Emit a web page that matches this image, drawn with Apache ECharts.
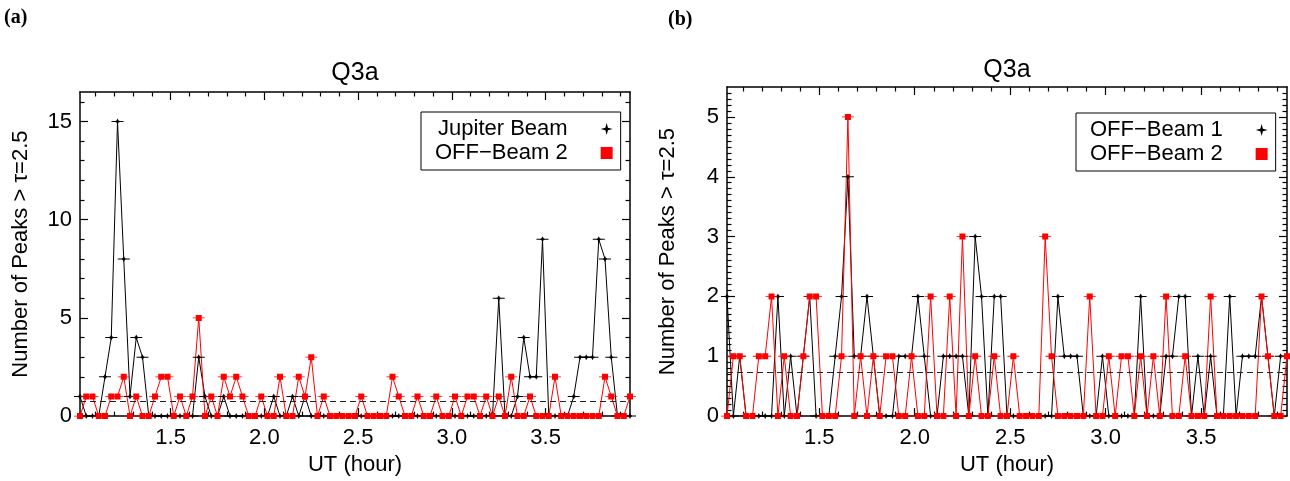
<!DOCTYPE html>
<html>
<head>
<meta charset="utf-8">
<script src="https://cdn.jsdelivr.net/npm/echarts@6/dist/echarts.min.js"></script>
<style>
  html, body { margin: 0; padding: 0; background: #fff; }
  #chart { width: 1290px; height: 481px; }
</style>
</head>
<body>
<div id="chart"></div>
<script>
// ---------------- DATA ----------------
// sample times, minutes after 0 UT (2-minute bins)
const UT_MIN = [61,63,65,67,69,71,73,75,77,79,81,83,85,87,89,91,93,95,97,99,
  101,103,105,107,109,111,113,115,117,119,121,123,125,127,129,131,133,135,137,139,
  141,143,145,147,149,151,153,155,157,159,161,163,165,167,169,171,173,175,177,179,
  181,183,185,187,189,191,193,195,197,199,201,203,205,207,209,211,213,215,217,219,
  221,223,225,227,229,231,233,235,237];

// Panel (a)
const JUPITER_A = [1,0,0,0,2,4,15,8,1,4, 3,0,0,0,0,0,0,0,0,3, 1,0,0,1,0,0,0,0,0,0,
  0,1,0,0,1,0,1,0,0,0, 0,0,0,0,0,0,0,0,0,0, 0,0,0,0,0,0,0,0,0,0, 0,0,0,0,0,0,0,6,0,0,
  1,4,2,2,9,0,0,0,0,1, 3,3,3,9,8,3,0,0,0];
const OFF2_A = [0,1,1,0,0,1,1,2,0,1, 0,0,1,2,2,0,1,0,1,5, 0,1,0,2,1,2,1,0,0,1,
  0,0,2,0,0,2,1,3,0,1, 0,0,0,0,0,1,0,0,0,0, 2,1,0,0,1,0,0,1,0,0, 1,0,1,1,0,1,0,1,0,2,
  0,0,1,0,0,0,2,0,0,0, 0,0,0,0,2,1,0,0,1];
const THRESH_A = 0.76;

// Panel (b)
const OFF1_B = [2,0,1,0,0,0,0,0,2,0, 1,0,1,2,0,0,0,1,2,4, 1,1,2,1,0,0,0,1,1,1,
  2,1,0,0,1,1,1,1,0,3, 2,0,2,2,0,0,0,0,0,0, 0,0,2,1,1,1,0,0,0,1, 0,0,0,0,0,2,0,0,0,1,
  1,2,2,0,1,0,1,0,0,2, 0,1,1,1,2,1,0,1,1];
const OFF2_B = [0,1,1,0,0,1,1,2,0,1, 0,0,1,2,2,0,0,0,1,5, 0,1,0,1,0,1,1,0,0,1,
  0,0,2,0,0,2,0,3,0,1, 0,0,1,0,0,1,0,0,0,0, 3,1,0,0,0,0,0,2,0,0, 1,0,1,1,0,1,0,1,0,2,
  0,0,1,0,0,0,2,0,0,0, 0,0,0,0,2,1,0,0,1];
const THRESH_B = 0.74;

// Axis ticks / labels
const X_MIN = 61 / 60, X_MAX = 237 / 60;
const X_MAJOR = [1.5, 2.0, 2.5, 3.0, 3.5];
const X_MINOR = [1.1,1.2,1.3,1.4,1.6,1.7,1.8,1.9,2.1,2.2,2.3,2.4,2.6,2.7,2.8,2.9,3.1,3.2,3.3,3.4,3.6,3.7,3.8,3.9];
const Y_A_MAX = 16.5;
const Y_A_MAJOR = [0, 5, 10, 15];
const Y_A_MINOR = [1,2,3,4,6,7,8,9,11,12,13,14,16];
const Y_B_MAX = 5.5;
const Y_B_MAJOR = [0, 1, 2, 3, 4, 5];
const Y_B_MINOR = [];
for (let k = 1; k <= 54; k++) { if (k % 10 !== 0) Y_B_MINOR.push(k / 10); }

const TITLE = 'Q3a';
const X_NAME = 'UT (hour)';
const Y_NAME = 'Number of Peaks > τ=2.5';

// ---------------- STYLE ----------------
const FONT = '"Liberation Sans", Arial, Helvetica, sans-serif';
const RED = '#ff0000', BLACK = '#000000';
const RED_SYM = 'path://M0,2.6H12V3.4H0Z M3,0H9V6H3Z';
const BLK_SYM = 'path://M0,2.5H12V3.5H0Z M6,0L7,2L9.5,3L7,4L6,6L5,4L2.5,3L5,2Z';
const STAR_ICON = 'path://M6,0L7.3,4.7L12,6L7.3,7.3L6,12L4.7,7.3L0,6L4.7,4.7Z';

const xAxes = [], yAxes = [];

function addX(grid, pos, ticks, len, opts) {
  xAxes.push(Object.assign({
    gridIndex: grid, type: 'value', min: X_MIN, max: X_MAX, position: pos,
    axisLine: { show: false, onZero: false },
    axisTick: { show: true, inside: true, length: len, customValues: ticks, lineStyle: { color: BLACK, width: 1.2 } },
    axisLabel: { show: false },
    splitLine: { show: false }
  }, opts || {}));
  return xAxes.length - 1;
}
function addY(grid, pos, max, ticks, len, opts) {
  yAxes.push(Object.assign({
    gridIndex: grid, type: 'value', min: 0, max: max, position: pos,
    axisLine: { show: false, onZero: false },
    axisTick: { show: true, inside: true, length: len, customValues: ticks, lineStyle: { color: BLACK, width: 1.2 } },
    axisLabel: { show: false },
    splitLine: { show: false }
  }, opts || {}));
  return yAxes.length - 1;
}

const lineAxis = { show: true, onZero: false, lineStyle: { color: BLACK, width: 1.5 } };

function buildPanel(grid, yMax, yMajor, yMinor, yNameGap) {
  const xMain = addX(grid, 'bottom', X_MAJOR, 8, {
    axisLine: lineAxis,
    axisLabel: { show: true, customValues: X_MAJOR, formatter: v => v.toFixed(1),
      fontSize: 22, fontFamily: FONT, color: BLACK, margin: 11 },
    name: X_NAME, nameLocation: 'middle', nameGap: 37,
    nameTextStyle: { fontSize: 22, fontFamily: FONT, color: BLACK }
  });
  addX(grid, 'bottom', X_MINOR, 4.5);
  addX(grid, 'top', X_MAJOR, 8, { axisLine: lineAxis });
  addX(grid, 'top', X_MINOR, 4.5);
  const yMain = addY(grid, 'left', yMax, yMajor, 8, {
    axisLine: lineAxis,
    axisLabel: { show: true, customValues: yMajor, fontSize: 22, fontFamily: FONT, color: BLACK, margin: 8 },
    name: Y_NAME, nameLocation: 'middle', nameGap: yNameGap,
    nameTextStyle: { fontSize: 22, fontFamily: FONT, color: BLACK }
  });
  addY(grid, 'left', yMax, yMinor, 4.5);
  addY(grid, 'right', yMax, yMajor, 8, { axisLine: lineAxis });
  addY(grid, 'right', yMax, yMinor, 4.5);
  return { xMain, yMain };
}

const A = buildPanel(0, Y_A_MAX, Y_A_MAJOR, Y_A_MINOR, 48);
const B = buildPanel(1, Y_B_MAX, Y_B_MAJOR, Y_B_MINOR, 48);

function pts(vals) { return vals.map((v, i) => [UT_MIN[i] / 60, v]); }

function series(name, axes, vals, color, sym, thresh) {
  const s = {
    name: name, type: 'line', xAxisIndex: axes.xMain, yAxisIndex: axes.yMain,
    data: pts(vals), symbol: sym, symbolSize: [12, 6], showSymbol: true,
    lineStyle: { color: color, width: 1 }, itemStyle: { color: color, borderWidth: 0 },
    animation: false, silent: true, clip: true
  };
  if (thresh !== undefined) {
    s.markLine = { symbol: 'none', silent: true, animation: false, label: { show: false },
      lineStyle: { type: [6, 4], color: '#222', width: 1 }, data: [{ yAxis: thresh }] };
  }
  return s;
}

const legendBase = {
  orient: 'vertical', align: 'right', itemWidth: 12, itemHeight: 12, itemGap: 2,
  padding: [6, 8, 6, 14], borderColor: BLACK, borderWidth: 1, backgroundColor: '#fff',
  selectedMode: false,
  textStyle: { fontSize: 22, fontFamily: FONT, color: BLACK, padding: [0, 28, 0, 0] }
};

const option = {
  backgroundColor: '#fff',
  animation: false,
  title: [
    { text: '(a)', left: 4, top: 8, padding: 0, textStyle: { fontFamily: '"Liberation Serif", "Times New Roman", serif', fontWeight: 'bold', fontSize: 20, color: BLACK } },
    { text: '(b)', left: 668, top: 10, padding: 0, textStyle: { fontFamily: '"Liberation Serif", "Times New Roman", serif', fontWeight: 'bold', fontSize: 20, color: BLACK } },
    { text: TITLE, left: 355, top: 61, textAlign: 'center', padding: 0, textStyle: { fontFamily: FONT, fontWeight: 'normal', fontSize: 25, color: BLACK } },
    { text: TITLE, left: 1007, top: 58, textAlign: 'center', padding: 0, textStyle: { fontFamily: FONT, fontWeight: 'normal', fontSize: 25, color: BLACK } }
  ],
  legend: [
    Object.assign({}, legendBase, { left: 421, top: 112,
      data: [{ name: 'Jupiter Beam', icon: STAR_ICON }, { name: 'OFF−Beam 2', icon: 'rect' }] }),
    Object.assign({}, legendBase, { left: 1076, top: 113,
      data: [{ name: 'OFF−Beam 1', icon: STAR_ICON }, { name: 'OFF−Beam 2', icon: 'rect' }] })
  ],
  grid: [
    { left: 80, top: 92, right: 660, bottom: 63, containLabel: false },
    { left: 727, top: 87, right: 3, bottom: 60, containLabel: false }
  ],
  xAxis: xAxes,
  yAxis: yAxes,
  series: [
    series('Jupiter Beam', A, JUPITER_A, BLACK, BLK_SYM, THRESH_A),
    series('OFF−Beam 2', A, OFF2_A, RED, RED_SYM),
    series('OFF−Beam 1', B, OFF1_B, BLACK, BLK_SYM, THRESH_B),
    series('OFF−Beam 2', B, OFF2_B, RED, RED_SYM)
  ]
};

const chart = echarts.init(document.getElementById('chart'), null, { renderer: 'canvas' });
chart.setOption(option);
</script>
</body>
</html>
